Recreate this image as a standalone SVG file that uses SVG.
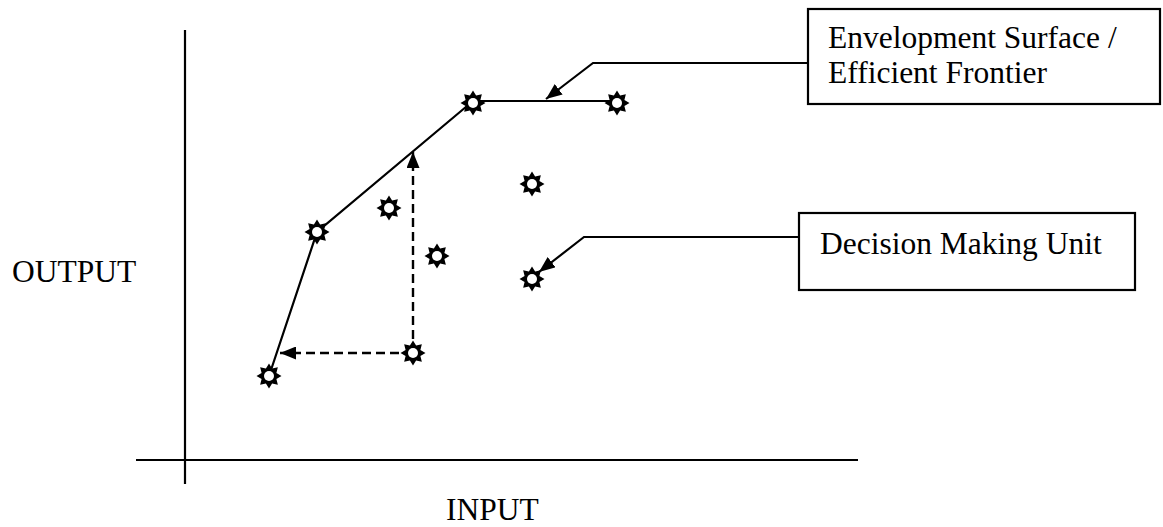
<svg xmlns="http://www.w3.org/2000/svg" width="1163" height="527" viewBox="0 0 1163 527">
<style>
  .ln { fill: none; stroke: #000; stroke-width: 2.2; }
  .dash { fill: none; stroke: #000; stroke-width: 2.4; stroke-dasharray: 9 5; }
  .box { fill: #fff; stroke: #000; stroke-width: 2.2; }
  .lbl { font-family: "Liberation Serif", "Times New Roman", serif; font-size: 31.5px; fill: #000; }
</style>
<defs>
  <marker id="arr" markerUnits="userSpaceOnUse" markerWidth="17" markerHeight="13" refX="16" refY="6.5" orient="auto">
    <path d="M0,0 L16,6.5 L0,13 Z" fill="#000"/>
  </marker>
  <symbol id="star" viewBox="-13 -13 26 26" width="26" height="26" overflow="visible">
    <path d="M0,-12.5 L3.1,-7.4 L8.84,-8.84 L7.4,-3.1 L12.5,0 L7.4,3.1 L8.84,8.84 L3.1,7.4 L0,12.5 L-3.1,7.4 L-8.84,8.84 L-7.4,3.1 L-12.5,0 L-7.4,-3.1 L-8.84,-8.84 L-3.1,-7.4 Z" fill="#000"/>
    <circle cx="0" cy="0" r="5" fill="#fff"/>
  </symbol>
</defs>
<rect width="1163" height="527" fill="#fff"/>

<g id="axes">
  <line class="ln" x1="185" y1="30" x2="185" y2="484"/>
  <line class="ln" x1="136" y1="460" x2="858" y2="460"/>
  <text class="lbl" x="12" y="282">OUTPUT</text>
  <text class="lbl" x="446" y="520">INPUT</text>
</g>

<g id="connectors">
  <polyline class="ln" points="269,376 317,232 473,101 617,101"/>
  <line class="dash" x1="413" y1="353" x2="413" y2="152" marker-end="url(#arr)"/>
  <line class="dash" x1="413" y1="353" x2="280" y2="353" marker-end="url(#arr)"/>
  <polyline class="ln" points="808,63 593,63 546,99" marker-end="url(#arr)"/>
  <polyline class="ln" points="799,237 584,237 539,272" marker-end="url(#arr)"/>
</g>

<g id="dmu1"><use href="#star" x="256" y="363"/></g>
<g id="dmu2"><use href="#star" x="304" y="219"/></g>
<g id="dmu3"><use href="#star" x="376" y="195"/></g>
<g id="dmu4"><use href="#star" x="400" y="340"/></g>
<g id="dmu5"><use href="#star" x="424" y="243"/></g>
<g id="dmu6"><use href="#star" x="460" y="90"/></g>
<g id="dmu7"><use href="#star" x="519" y="171"/></g>
<g id="dmu8"><use href="#star" x="519" y="266"/></g>
<g id="dmu9"><use href="#star" x="604" y="90"/></g>

<g id="frontier-label">
  <rect class="box" x="808" y="9" width="352" height="95"/>
  <text class="lbl" x="828" y="48">Envelopment Surface /</text>
  <text class="lbl" x="828" y="83">Efficient Frontier</text>
</g>

<g id="dmu-label">
  <rect class="box" x="799" y="213" width="336" height="77"/>
  <text class="lbl" x="820" y="254">Decision Making Unit</text>
</g>
</svg>
